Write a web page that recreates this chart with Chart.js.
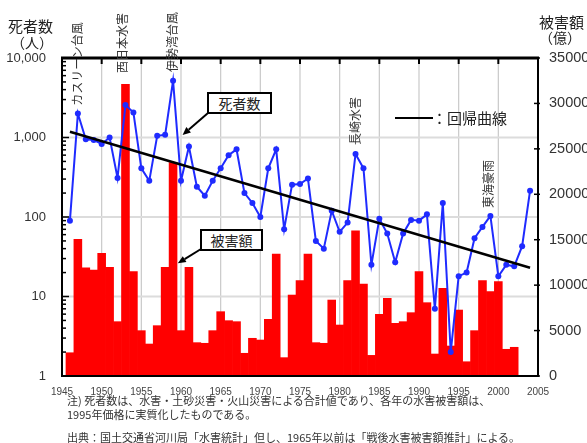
<!DOCTYPE html>
<html>
<head>
<meta charset="utf-8">
<script src="https://cdn.jsdelivr.net/npm/chart.js@4/dist/chart.umd.min.js"></script>
<style>
  html, body { margin: 0; padding: 0; background: #fff; }
  #wrap { position: relative; width: 587px; height: 443px; overflow: hidden;
          font-family: "Noto Sans CJK JP", "Noto Sans", sans-serif; color: #333; }
  #c { position: absolute; left: 0; top: 0; }
  .t { position: absolute; white-space: nowrap; line-height: 1; }
  .v { position: absolute; white-space: nowrap; line-height: 1; font-size: 12px; color: #333;
       transform: translate(-50%, -50%) rotate(-90deg); }
  .box { position: absolute; border: 2px solid #000; background: #fff; box-sizing: border-box;
         font-size: 14px; text-align: center; color: #222; }
  .note { position: absolute; white-space: nowrap; line-height: 1; font-size: 11px; color: #333; left: 67px; }
</style>
</head>
<body>
<div id="wrap">
  <canvas id="c" width="587" height="443"></canvas>

  <!-- axis titles -->
  <div class="t" style="left:8px;top:18px;font-size:15px;color:#222">死者数</div>
  <div class="t" style="left:11px;top:35px;font-size:14px;color:#222">（人）</div>
  <div class="t" style="left:539px;top:14px;font-size:15px;color:#222">被害額</div>
  <div class="t" style="left:539px;top:30px;font-size:14px;color:#222">（億）</div>

  <!-- disaster names -->
  <div class="v" style="left:77px;top:64px">カスリーン台風</div>
  <div class="v" style="left:122px;top:43px">西日本水害</div>
  <div class="v" style="left:172px;top:42px">伊勢湾台風</div>
  <div class="v" style="left:355px;top:121px">長崎水害</div>
  <div class="v" style="left:488px;top:184px">東海豪雨</div>

  <!-- callouts -->
  <div class="box" style="left:207px;top:92px;width:65px;height:22px;line-height:18px">死者数</div>
  <div class="box" style="left:200px;top:229px;width:63px;height:22px;line-height:18px">被害額</div>

  <!-- regression legend -->
  <div style="position:absolute;left:395px;top:117px;width:38px;height:2px;background:#000"></div>
  <div class="t" style="left:432px;top:110px;font-size:15px;color:#222">：回帰曲線</div>

  <!-- notes -->
  <div class="note" style="top:394.5px">注) 死者数は、水害・土砂災害・火山災害による合計値であり、各年の水害被害額は、</div>
  <div class="note" style="top:408.5px">1995年価格に実質化したものである。</div>
  <div class="note" style="top:431.5px">出典：国土交通省河川局「水害統計」但し、1965年以前は「戦後水害被害額推計」による。</div>
</div>

<script>
// Deaths from floods, landslides and volcanic disasters (persons), 1946-2004
const deathYears = [
  1946, 1947, 1948, 1949, 1950, 1951, 1952, 1953, 1954, 1955,
  1956, 1957, 1958, 1959, 1960, 1961, 1962, 1963, 1964, 1965,
  1966, 1967, 1968, 1969, 1970, 1971, 1972, 1973, 1974, 1975,
  1976, 1977, 1978, 1979, 1980, 1981, 1982, 1983, 1984, 1985,
  1986, 1987, 1988, 1989, 1990, 1991, 1992, 1993, 1994, 1995,
  1996, 1997, 1998, 1999, 2000, 2001, 2002, 2003, 2004
];
const deaths = [
  90, 2000, 950, 930, 830, 1000, 310, 2560, 2070, 410,
  285, 1050, 1080, 5180, 285, 770, 240, 185, 285, 410,
  600, 710, 200, 150, 100, 410, 710, 70, 255, 260,
  305, 50, 40, 120, 65, 85, 620, 410, 25, 95,
  62, 27, 62, 92, 90, 108, 7, 150, 2, 18,
  20, 54, 75, 103, 18, 25, 24, 43, 214
];

// Flood damage (100 million yen, 1995 prices), 1946-2002
const damageYears = [
  1946, 1947, 1948, 1949, 1950, 1951, 1952, 1953, 1954, 1955,
  1956, 1957, 1958, 1959, 1960, 1961, 1962, 1963, 1964, 1965,
  1966, 1967, 1968, 1969, 1970, 1971, 1972, 1973, 1974, 1975,
  1976, 1977, 1978, 1979, 1980, 1981, 1982, 1983, 1984, 1985,
  1986, 1987, 1988, 1989, 1990, 1991, 1992, 1993, 1994, 1995,
  1996, 1997, 1998, 1999, 2000, 2001, 2002
];
const damage = [
  2560, 15050, 11900, 11650, 13500, 11950, 5980, 32100, 11480, 4990,
  3520, 5540, 11960, 23480, 4990, 11960, 3670, 3600, 4990, 7080,
  6090, 5980, 2500, 4150, 3960, 6240, 13430, 2020, 8910, 10490,
  13430, 3670, 3600, 8360, 5610, 10490, 15990, 10130, 2270, 6790,
  8550, 5800, 5980, 6970, 11480, 8070, 2420, 9650, 3300, 7260,
  1570, 4990, 10490, 9280, 10380, 2940, 3160
];

// Fitted trend of deaths (exponential, straight on the log axis)
const trendYears = [1946, 2004];
const trendDeaths = [1180, 23];

// Axis ticks
const yearTicks = [1945, 1950, 1955, 1960, 1965, 1970, 1975, 1980, 1985, 1990, 1995, 2000, 2005];
const deathTicks = [1, 10, 100, 1000, 10000];
const damageTicks = [0, 5000, 10000, 15000, 20000, 25000, 30000, 35000];

// Where the callout arrows point (year, value on the matching axis)
const deathArrowTip = [1960.2, 1075];
const damageArrowTip = [1959.6, 12400];

Chart.defaults.font.family = '"Liberation Sans", Arial, sans-serif';

function seg(ctx, x0, y0, x1, y1) {
  ctx.beginPath(); ctx.moveTo(x0, y0); ctx.lineTo(x1, y1); ctx.stroke();
}
function arrow(ctx, x0, y0, x1, y1) {
  const ang = Math.atan2(y1 - y0, x1 - x0), L = 8, W = 3.5;
  const bx = x1 - L * Math.cos(ang), by = y1 - L * Math.sin(ang);
  ctx.lineWidth = 2; ctx.strokeStyle = '#000'; ctx.fillStyle = '#000';
  seg(ctx, x0, y0, bx, by);
  ctx.beginPath();
  ctx.moveTo(x1, y1);
  ctx.lineTo(bx - W * Math.sin(ang), by + W * Math.cos(ang));
  ctx.lineTo(bx + W * Math.sin(ang), by - W * Math.cos(ang));
  ctx.closePath(); ctx.fill();
}

const framePlugin = {
  id: 'frame',
  beforeDatasetsDraw(chart) {
    const { ctx, chartArea: a, scales } = chart;
    ctx.save();
    ctx.strokeStyle = '#c9c9c9'; ctx.lineWidth = 1.2;
    yearTicks.slice(1, -1).forEach(v => {
      const px = scales.x.getPixelForValue(v);
      seg(ctx, px, a.top, px, a.bottom);
    });
    ctx.strokeStyle = '#dcdcdc'; ctx.lineWidth = 2;
    deathTicks.slice(1, -1).forEach(v => {
      const py = scales.yL.getPixelForValue(v);
      seg(ctx, a.left, py, a.right, py);
    });
    ctx.restore();
  },
  afterDatasetsDraw(chart) {
    const { ctx, chartArea: a, scales } = chart;
    ctx.save();
    ctx.strokeStyle = '#000';
    // left log axis: major and minor ticks pointing inward
    ctx.lineWidth = 1.5;
    for (let e = 0; e < 4; e++) {
      for (let m = 1; m <= 9; m++) {
        const py = scales.yL.getPixelForValue(m * Math.pow(10, e));
        seg(ctx, a.left, py, a.left + (m === 1 ? 7 : 4), py);
      }
    }
    // right axis ticks
    damageTicks.forEach(v => {
      const py = scales.yR.getPixelForValue(v);
      seg(ctx, a.right - 4, py, a.right + 2, py);
    });
    // top ticks every five years
    ctx.lineWidth = 2;
    yearTicks.slice(1, -1).forEach(v => {
      const px = scales.x.getPixelForValue(v);
      seg(ctx, px, a.top, px, a.top + 6);
    });
    // frame
    ctx.lineWidth = 2;
    seg(ctx, a.left, a.top, a.left, a.bottom + 1);
    seg(ctx, a.right, a.top, a.right, a.bottom + 1);
    seg(ctx, a.left - 1, a.bottom, a.right + 1, a.bottom);
    ctx.lineWidth = 3;
    seg(ctx, a.left - 1, a.top, a.right + 1, a.top);
    // callout arrows
    arrow(ctx, 208, 113,
      scales.x.getPixelForValue(deathArrowTip[0]), scales.yL.getPixelForValue(deathArrowTip[1]));
    arrow(ctx, 201, 249,
      scales.x.getPixelForValue(damageArrowTip[0]), scales.yR.getPixelForValue(damageArrowTip[1]));
    ctx.restore();
  }
};

new Chart(document.getElementById('c'), {
  type: 'bar',
  data: {
    datasets: [
      {
        type: 'line',
        label: '回帰曲線',
        data: trendYears.map((y, i) => ({ x: y, y: trendDeaths[i] })),
        yAxisID: 'yL',
        borderColor: '#000',
        borderWidth: 2.5,
        pointRadius: 0,
        order: 1
      },
      {
        type: 'line',
        label: '死者数',
        data: deathYears.map((y, i) => ({ x: y, y: deaths[i] })),
        yAxisID: 'yL',
        borderColor: '#1f2bff',
        backgroundColor: '#1f2bff',
        borderWidth: 2,
        pointRadius: 3,
        pointBorderWidth: 0,
        pointBackgroundColor: '#1f2bff',
        tension: 0,
        order: 2
      },
      {
        type: 'bar',
        label: '被害額',
        data: damageYears.map((y, i) => ({ x: y, y: damage[i] })),
        yAxisID: 'yR',
        backgroundColor: '#ff0000',
        borderWidth: 0,
        barPercentage: 1,
        categoryPercentage: 1,
        order: 3
      }
    ]
  },
  options: {
    responsive: false,
    animation: false,
    devicePixelRatio: 1,
    events: [],
    layout: { padding: { top: 58, left: 0, right: 0, bottom: 0 } },
    plugins: { legend: { display: false }, tooltip: { enabled: false } },
    scales: {
      x: {
        type: 'linear',
        position: 'bottom',
        min: 1945, max: 2005,
        offset: false,
        afterBuildTicks: s => { s.ticks = yearTicks.map(v => ({ value: v })); },
        afterFit: s => { s.height = 67; },
        grid: { display: false },
        border: { display: false },
        ticks: { font: { size: 10 }, color: '#444', padding: 2, maxRotation: 0, autoSkip: false,
                 callback: v => String(v) }
      },
      yL: {
        type: 'logarithmic',
        position: 'left',
        min: 1, max: 10000,
        afterBuildTicks: s => { s.ticks = deathTicks.map(v => ({ value: v })); },
        afterFit: s => { s.width = 62; },
        grid: { display: false },
        border: { display: false },
        ticks: { font: { size: 13 }, color: '#333', padding: 8, autoSkip: false,
                 callback: v => Number(v).toLocaleString('en-US') }
      },
      yR: {
        type: 'linear',
        position: 'right',
        min: 0, max: 35000,
        afterBuildTicks: s => { s.ticks = damageTicks.map(v => ({ value: v })); },
        afterFit: s => { s.width = 49; },
        grid: { display: false },
        border: { display: false },
        ticks: { font: { size: 14.5 }, color: '#333', padding: 3, autoSkip: false,
                 callback: v => String(v) }
      }
    }
  },
  plugins: [framePlugin]
});
</script>
</body>
</html>
